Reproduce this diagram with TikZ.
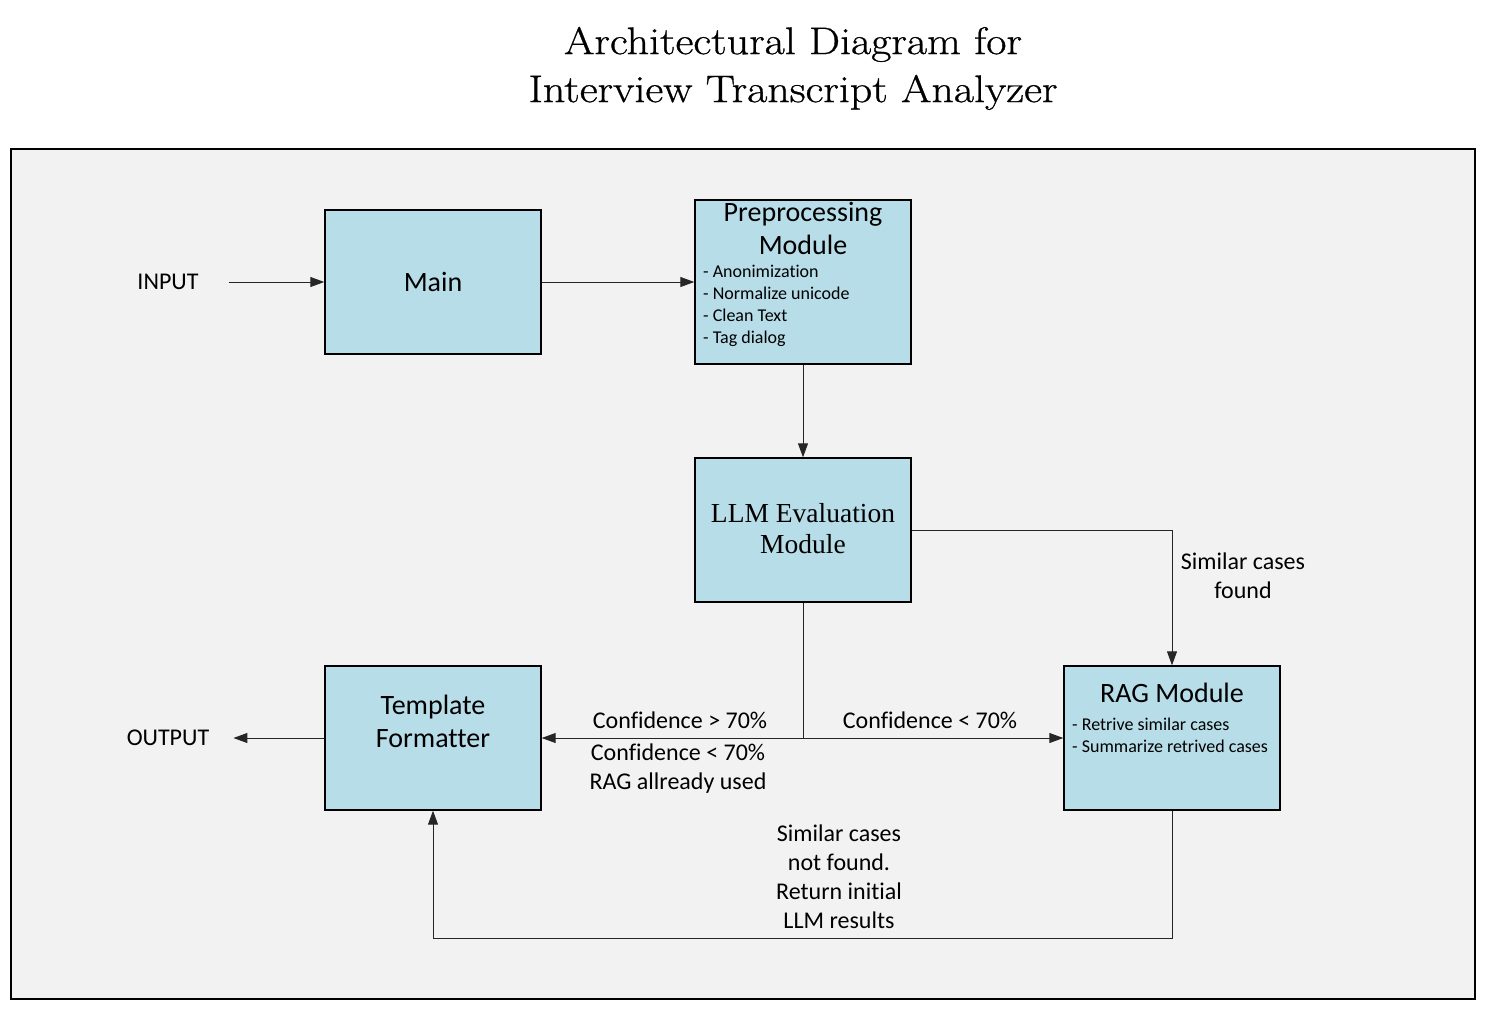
\documentclass[tikz,border=0pt]{standalone}
\usepackage{fontspec}
\setsansfont{Carlito}[Ligatures=NoCommon]
\newfontfamily\serifb{Liberation Serif}
\newfontfamily\titlefont{Latin Modern Roman}[FakeBold=0.7]
\usetikzlibrary{arrows.meta}
\definecolor{boxblue}{HTML}{B7DDE8}
\definecolor{bggray}{HTML}{F2F2F2}
\tikzset{
  block/.style={draw=black, line width=1.4pt, fill=boxblue, minimum width=216pt, minimum height=144pt, inner sep=0pt, anchor=center},
  boxtitle/.style={font=\sffamily\fontsize{28}{33}\selectfont, align=center, inner sep=0pt},
  listtxt/.style={font=\sffamily\fontsize{18}{21.8}\selectfont, align=left, inner sep=0pt, anchor=west},
  lbl/.style={font=\sffamily\fontsize{24}{29}\selectfont, align=center, inner sep=0pt},
  conn/.style={draw=black!85, line width=1pt},
  arr/.style={conn, -{Triangle[length=14pt,width=10pt]}}
}
\begin{document}
\begin{tikzpicture}[x=1pt,y=-1pt]
\useasboundingbox (0,0) rectangle (1485,1010);
\fill[white] (0,0) rectangle (1485,1010);
\draw[fill=bggray, draw=black, line width=1.2pt] (11,149) rectangle (1475,999);

% title
\node[inner sep=0pt] (title) at (793,68.5) {\scalebox{1.14}[1]{\titlefont\fontsize{38.5}{48}\selectfont\begin{tabular}{@{}c@{}}Architectural Diagram for\\Interview Transcript Analyzer\end{tabular}}};

% boxes
\node[block] (main) at (433,282) {};
\node[block, minimum height=164pt] (pre) at (803,282) {};
\node[block] (llm) at (803,530) {};
\node[block] (tf) at (433,738) {};
\node[block] (rag) at (1172,738) {};

% box texts
\node[boxtitle] (maint) at (433,282) {Main};
\node[boxtitle] (pret) at (803,228.5) {Preprocessing\\Module};
\node[listtxt] (prel) at (703,306) {- Anonimization\\- Normalize unicode\\- Clean Text\\- Tag dialog};
\node[font=\serifb\fontsize{27.5}{31}\selectfont, align=center, inner sep=0pt] (llmt) at (803,528.5) {LLM Evaluation\\Module};
\node[boxtitle] (tft) at (433,721) {Template\\Formatter};
\node[boxtitle] (ragt) at (1172,693) {RAG Module};
\node[listtxt] (ragl) at (1072,735) {- Retrive similar cases\\- Summarize retrived cases};

% io labels
\node[lbl] (input) at (168,282) {INPUT};
\node[lbl] (output) at (168,738) {OUTPUT};

% connectors
\draw[arr] ([xshift=30pt]input.east) -- (main.west);
\draw[arr] (main.east) -- (main.east -| pre.west);
\draw[arr] (pre.south) -- (llm.north);
\draw[arr] (llm.east) -| (rag.north);
\coordinate (split) at (llm.south |- tf.east);
\draw[conn] (llm.south) -- (split);
\draw[arr] (split) -- (tf.east);
\draw[arr] (split) -- (rag.west);
\draw[arr] (tf.west) -- ([xshift=24pt]output.east);
\coordinate (bottom) at (1172,938);
\draw[arr] (rag.south) -- (bottom) -| (tf.south);

% connector labels
\node[lbl] (c1) at (680,720) {Confidence > 70\%};
\node[lbl] (c2) at (930,720) {Confidence < 70\%};
\node[lbl] (c3) at (678,769) {Confidence < 70\%\\RAG allready used};
\node[lbl] (sf) at (1243,576) {Similar cases\\found};
\node[lbl] (snf) at (839,877) {Similar cases\\not found.\\Return initial\\LLM results};
\end{tikzpicture}
\end{document}
